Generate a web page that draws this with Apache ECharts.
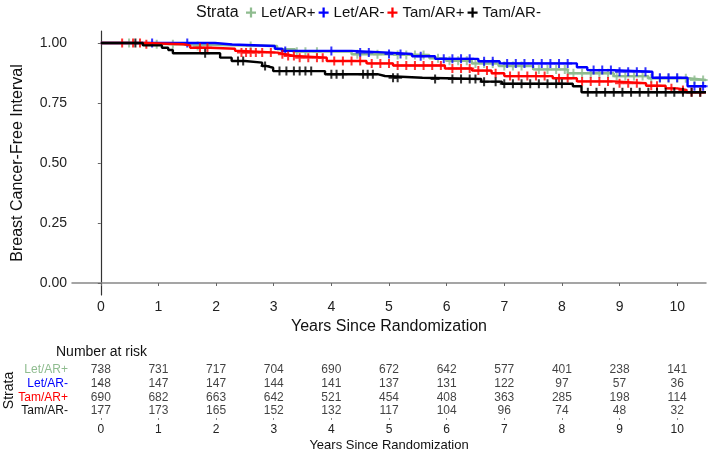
<!DOCTYPE html>
<html><head><meta charset="utf-8">
<script src="https://cdn.jsdelivr.net/npm/echarts@6/dist/echarts.min.js"></script>
<style>html,body{margin:0;padding:0;background:#fff}#c{width:709px;height:450px}</style>
</head><body><div id="c"></div>
<script>
// ---- data ----
const strata = ['Let/AR+', 'Let/AR-', 'Tam/AR+', 'Tam/AR-'];
const colors = ['#8FBC8F', '#0000FF', '#FF0000', '#000000'];
const yearTicks = [0,1,2,3,4,5,6,7,8,9,10];
const survTicks = [0, 0.25, 0.5, 0.75, 1.0];
const endTime = 10.5;

// step changes: [time, survival after drop]
const letARpos = [[0,1],[0.5,0.995],[1.3,0.9875],[3.06,0.974],[3.37,0.964],[4.35,0.953],[5.0,0.95],[5.7,0.936],[6.0,0.926],[6.44,0.915],[6.9,0.904],[7.5,0.89],[8.1,0.874],[8.9,0.862],[9.5,0.853],[10.2,0.846]];
const letARneg = [[0,1],[1.98,0.994],[2.28,0.9875],[3.02,0.976],[3.15,0.967],[4.35,0.96],[5.0,0.954],[5.4,0.945],[5.8,0.934],[6.55,0.924],[6.92,0.915],[8.26,0.899],[8.44,0.887],[8.88,0.88],[9.57,0.855],[10.18,0.82]];
const tamARpos = [[0,1],[0.75,0.995],[1.43,0.99],[1.55,0.98],[1.9,0.976],[2.33,0.967],[2.44,0.96],[3.07,0.953],[3.19,0.946],[3.37,0.939],[3.92,0.925],[4.61,0.915],[5.07,0.906],[5.97,0.894],[6.44,0.885],[6.78,0.874],[7.0,0.862],[7.84,0.853],[8.26,0.84],[8.9,0.832],[9.46,0.822],[9.8,0.811],[10.0,0.804],[10.16,0.795]];
const tamARneg = [[0,1],[0.73,0.99],[1.06,0.98],[1.17,0.971],[1.25,0.957],[2.07,0.939],[2.27,0.925],[2.5,0.918],[2.8,0.904],[2.88,0.897],[2.99,0.883],[3.89,0.87],[4.8,0.8625],[4.93,0.855],[5.58,0.85],[6.6,0.839],[6.96,0.83],[8.19,0.82],[8.34,0.795]];

// censoring times
const censLetARpos = [0.49,0.97,1.25,1.68,2.6,3.4,3.55,3.75,4.45,4.8,5.15,5.3,5.45,5.6,5.85,6.05,6.2,6.35,6.5,6.65,6.8,7.0,7.15,7.3,7.6,7.75,7.9,8.05,8.2,8.35,8.5,8.65,8.8,8.95,9.1,9.25,9.4,9.55,9.7,9.85,10.0,10.15,10.3,10.45];
const censLetARneg = [0.89,1.5,3.2,4.0,4.5,4.65,5.0,5.2,5.55,5.95,6.1,6.25,6.4,6.65,6.8,7.05,7.2,7.35,7.5,7.65,7.8,7.95,8.1,8.55,8.7,8.85,9.0,9.15,9.3,9.45,9.7,9.85,10.0,10.3,10.45];
const censTamARpos = [0.37,0.56,0.68,0.79,1.72,1.85,2.44,2.52,2.6,2.69,2.8,2.95,3.15,3.25,3.35,3.45,3.6,3.75,3.85,4.05,4.2,4.35,4.5,4.7,4.85,5.0,5.15,5.3,5.45,5.6,5.75,5.9,6.1,6.25,6.4,6.55,6.7,6.85,7.1,7.25,7.4,7.55,7.7,7.95,8.1,8.35,8.5,8.65,8.8,9.0,9.15,9.3,9.55,9.65,9.9,10.1,10.25,10.4];
const censTamARneg = [0.6,1.81,2.38,2.47,2.85,3.1,3.22,3.35,3.45,3.55,3.65,4.0,4.09,4.2,4.55,4.63,4.72,5.07,5.15,5.8,6.1,6.25,6.4,6.5,6.65,6.85,7.0,7.15,7.3,7.45,7.6,7.75,7.9,8.0,8.45,8.6,8.75,8.9,9.05,9.2,9.35,9.5,9.65,9.8,9.95,10.1,10.25,10.4];

// number at risk
const riskLetARpos = [738,731,717,704,690,672,642,577,401,238,141];
const riskLetARneg = [148,147,147,144,141,137,131,122,97,57,36];
const riskTamARpos = [690,682,663,642,521,454,408,363,285,198,114];
const riskTamARneg = [177,173,165,152,132,117,104,96,74,48,32];

// ---- build ----
const steps = [letARpos, letARneg, tamARpos, tamARneg];
const cens = [censLetARpos, censLetARneg, censTamARpos, censTamARneg];
const risks = [riskLetARpos, riskLetARneg, riskTamARpos, riskTamARneg];
const plus = 'path://M3.1,0h1.8v3.1h3.1v1.8h-3.1v3.1h-1.8v-3.1h-3.1v-1.8h3.1z';
const FONT = '"Liberation Sans", Arial, sans-serif';

function survAt(st, t) { let s = 1; for (const p of st) { if (p[0] <= t) s = p[1]; } return s; }

const series = [];
strata.forEach((name, i) => {
  const d = steps[i].slice();
  d.push([endTime, d[d.length - 1][1]]);
  series.push({ type: 'line', name: name, step: 'end', data: d, xAxisIndex: 0, yAxisIndex: 0,
    showSymbol: false, symbol: 'none', lineStyle: { color: colors[i], width: 2.4 }, itemStyle: { color: colors[i] },
    silent: true, animation: false, z: 2 + i });
  series.push({ type: 'scatter', name: name, data: cens[i].map(t => [t, survAt(steps[i], t)]),
    xAxisIndex: 0, yAxisIndex: 0, symbol: plus, symbolSize: 9, itemStyle: { color: colors[i] },
    silent: true, animation: false, z: 2 + i });
});
const riskData = [];
risks.forEach((arr, r) => arr.forEach((n, k) => riskData.push([yearTicks[k], r, n])));
series.push({ type: 'scatter', data: riskData, xAxisIndex: 1, yAxisIndex: 1, symbolSize: 0,
  label: { show: true, position: 'inside', formatter: p => p.value[2], color: '#111', fontSize: 12, fontFamily: FONT },
  silent: true, animation: false });

const chart = echarts.init(document.getElementById('c'));
chart.setOption({
  animation: false,
  textStyle: { fontFamily: FONT },
  graphic: [{ type: 'text', left: 196, top: 5, style: { text: 'Strata', font: '16px ' + FONT, fill: '#111' } }],
  title: { text: 'Number at risk', left: 51, top: 340, textStyle: { fontSize: 14, fontWeight: 'normal', color: '#111', fontFamily: FONT } },
  legend: { left: 246, top: 5, padding: 0, itemWidth: 10, itemHeight: 10, itemGap: 3,
    data: strata.map((s, i) => ({ name: s, icon: plus, itemStyle: { color: colors[i] } })),
    textStyle: { fontSize: 15, color: '#111', fontFamily: FONT } },
  grid: [
    { left: 72, right: 3, top: 31, height: 264, outerBoundsMode: 'none', containLabel: false },
    { left: 72, right: 3, top: 363, height: 55, outerBoundsMode: 'none', containLabel: false }
  ],
  xAxis: [
    { type: 'value', gridIndex: 0, min: -0.5, max: 10.5,
      name: 'Years Since Randomization', nameLocation: 'middle', nameGap: 22,
      nameTextStyle: { fontSize: 16, color: '#111', fontFamily: FONT },
      axisLine: { lineStyle: { color: '#888', width: 1.5 } },
      axisTick: { show: true, customValues: yearTicks, length: 3, lineStyle: { color: '#666' } },
      axisLabel: { customValues: yearTicks, fontSize: 14, color: '#222', margin: 5 },
      splitLine: { show: false } },
    { type: 'value', gridIndex: 1, min: -0.5, max: 10.5,
      name: 'Years Since Randomization', nameLocation: 'middle', nameGap: 21,
      nameTextStyle: { fontSize: 13, color: '#111', fontFamily: FONT },
      axisLine: { lineStyle: { color: '#555', width: 1.2 } },
      axisTick: { show: true, customValues: yearTicks, length: 2, lineStyle: { color: '#888' } },
      axisLabel: { customValues: yearTicks, fontSize: 12, color: '#222', margin: 6 },
      splitLine: { show: false } }
  ],
  yAxis: [
    { type: 'value', gridIndex: 0, min: -0.05, max: 1.05,
      name: 'Breast Cancer-Free Interval', nameLocation: 'middle', nameGap: 46,
      nameTextStyle: { fontSize: 16, color: '#111', fontFamily: FONT },
      axisLine: { show: true, lineStyle: { color: '#333', width: 1.2 } },
      axisTick: { show: true, customValues: survTicks, length: 3, lineStyle: { color: '#666' } },
      axisLabel: { customValues: survTicks, fontSize: 14, color: '#222', margin: 5, formatter: v => v.toFixed(2) },
      splitLine: { show: false } },
    { type: 'category', gridIndex: 1, inverse: true, data: strata,
      name: 'Strata', nameLocation: 'middle', nameGap: 56, nameMoveOverlap: false,
      nameTextStyle: { fontSize: 14, color: '#111', fontFamily: FONT },
      axisLine: { show: false },
      axisTick: { show: true, alignWithLabel: true, interval: 0, length: 3, lineStyle: { color: '#666' } },
      axisLabel: { interval: 0, fontSize: 12, margin: 4, formatter: (v, i) => '{s' + i + '|' + v + '}',
        rich: { s0: { color: colors[0], fontSize: 12 }, s1: { color: colors[1], fontSize: 12 }, s2: { color: colors[2], fontSize: 12 }, s3: { color: '#111', fontSize: 12 } } },
      splitLine: { show: false } }
  ],
  series: series
});
</script></body></html>
